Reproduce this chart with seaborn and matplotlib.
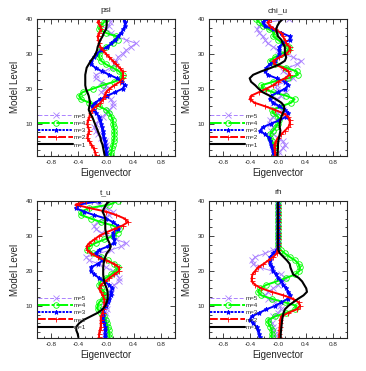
import numpy as np
import seaborn as sns
import matplotlib
matplotlib.use("Agg")
import matplotlib.pyplot as plt
from matplotlib.ticker import MultipleLocator, FixedLocator, FixedFormatter

levels = np.arange(1, 41)

# eigenvector values, level 1 -> 40
psi_m1 = [-0.02, -0.03, -0.04, -0.05, -0.07, -0.08, -0.1, -0.12, -0.14, -0.16, -0.18, -0.2, -0.23, -0.25, -0.24, -0.23, -0.24, -0.25, -0.27, -0.29,
          -0.3, -0.3, -0.3, -0.3, -0.29, -0.28, -0.25, -0.22, -0.18, -0.15, -0.13, -0.12, -0.1, -0.08, -0.05, -0.03, 0.0, 0.01, 0.01, 0.01]
psi_m2 = [-0.15, -0.16, -0.18, -0.21, -0.24, -0.27, -0.26, -0.24, -0.26, -0.27, -0.26, -0.24, -0.23, -0.2, -0.14, -0.08, -0.04, -0.02, 0.0, 0.05,
          0.12, 0.2, 0.24, 0.25, 0.24, 0.2, 0.15, 0.1, 0.05, 0.0, -0.04, -0.08, -0.1, -0.11, -0.12, -0.1, -0.07, -0.08, -0.12, -0.1]
psi_m3 = [0.0, 0.0, 0.0, -0.01, -0.02, -0.03, -0.04, -0.05, -0.06, -0.07, -0.08, -0.1, -0.14, -0.18, -0.2, -0.16, -0.08, 0.02, 0.13, 0.24,
          0.27, 0.23, 0.16, 0.05, -0.06, -0.15, -0.22, -0.21, -0.18, -0.14, -0.07, 0.02, 0.08, 0.13, 0.18, 0.22, 0.25, 0.28, 0.27, 0.26]
psi_m4 = [0.07, 0.08, 0.09, 0.1, 0.11, 0.12, 0.12, 0.12, 0.11, 0.1, 0.1, 0.08, 0.05, 0.0, -0.1, -0.24, -0.36, -0.39, -0.34, -0.19,
          -0.05, 0.12, 0.22, 0.24, 0.19, 0.1, 0.0, -0.07, -0.1, -0.1, -0.07, 0.0, 0.1, 0.17, 0.15, 0.0, -0.1, -0.08, -0.03, 0.0]
psi_m5 = [0.01, 0.01, 0.0, 0.0, -0.02, -0.07, -0.12, -0.15, -0.17, -0.15, -0.1, -0.05, 0.0, 0.05, 0.1, 0.1, 0.07, 0.0, -0.07, -0.02,
          0.0, -0.07, -0.15, -0.15, -0.02, 0.07, 0.12, 0.15, 0.17, 0.24, 0.29, 0.36, 0.44, 0.29, 0.15, 0.07, 0.0, 0.05, 0.06, 0.05]

chi_m1 = [-0.01, -0.005, 0.0, 0.0, 0.005, 0.015, 0.025, 0.035, 0.025, 0.025, 0.035, 0.05, 0.07, 0.09, 0.09, 0.05, -0.03, -0.12, -0.22, -0.28,
          -0.33, -0.39, -0.41, -0.36, -0.24, -0.1, 0.02, 0.1, 0.12, 0.1, 0.1, 0.1, 0.07, 0.05, 0.0, -0.015, -0.025, -0.01, 0.02, 0.07]
chi_m2 = [-0.04, -0.045, -0.05, -0.05, -0.03, 0.0, 0.05, 0.1, 0.15, 0.17, 0.17, 0.15, 0.07, -0.05, -0.19, -0.34, -0.41, -0.39, -0.28, -0.17,
          -0.07, 0.0, 0.1, 0.17, 0.15, 0.07, -0.05, -0.07, 0.02, 0.12, 0.17, 0.17, 0.12, 0.1, 0.07, 0.05, -0.05, -0.12, -0.15, -0.1]
chi_m3 = [-0.06, -0.07, -0.08, -0.1, -0.11, -0.13, -0.19, -0.26, -0.22, -0.1, 0.02, 0.12, 0.15, 0.1, 0.02, -0.07, -0.12, -0.1, 0.0, 0.1,
          0.15, 0.1, -0.02, -0.15, -0.19, -0.17, -0.12, -0.05, 0.0, 0.02, 0.02, 0.02, 0.07, 0.17, 0.17, 0.05, -0.07, -0.19, -0.22, -0.17]
chi_m4 = [-0.05, -0.05, -0.06, -0.07, -0.08, -0.11, -0.11, -0.07, -0.03, 0.0, 0.02, 0.0, -0.07, -0.08, 0.05, 0.19, 0.24, 0.12, -0.07, -0.22,
          -0.24, -0.07, 0.15, 0.29, 0.27, 0.12, -0.05, -0.12, -0.05, 0.05, 0.15, 0.16, 0.07, 0.0, -0.07, -0.05, -0.13, -0.22, -0.27, -0.32]
chi_m5 = [0.0, 0.02, 0.07, 0.1, 0.07, 0.0, -0.07, -0.1, -0.07, -0.12, -0.12, -0.07, 0.0, 0.07, 0.02, -0.07, -0.02, 0.05, 0.12, -0.02,
          -0.02, 0.12, 0.22, 0.15, 0.07, 0.15, 0.27, 0.34, 0.22, 0.07, 0.0, -0.07, -0.15, -0.19, -0.22, -0.27, -0.3, -0.28, -0.15, 0.16]

tu_m1 = [-0.4, -0.41, -0.43, -0.43, -0.39, -0.32, -0.22, -0.12, -0.05, -0.01, 0.01, 0.025, 0.025, 0.025, 0.01, -0.01, -0.025, -0.035, -0.04, -0.04,
         -0.04, -0.035, -0.025, -0.01, 0.01, 0.05, 0.07, 0.05, 0.025, 0.01, 0.0, -0.01, -0.01, -0.01, -0.01, -0.025, -0.05, -0.025, 0.0, 0.05]
tu_m2 = [-0.1, -0.1, -0.09, -0.075, -0.075, -0.075, -0.075, -0.05, -0.04, -0.025, -0.025, -0.025, -0.05, -0.075, -0.1, -0.075, -0.01, 0.05, 0.12, 0.19,
         0.19, 0.12, 0.0, -0.12, -0.22, -0.27, -0.28, -0.24, -0.17, -0.1, 0.0, 0.12, 0.24, 0.32, 0.27, 0.15, 0.0, -0.24, -0.44, -0.29]
tu_m3 = [-0.01, -0.01, -0.01, -0.01, -0.025, -0.04, -0.05, -0.05, -0.04, 0.0, 0.025, 0.05, 0.07, 0.07, 0.09, 0.05, -0.025, -0.1, -0.17, -0.22,
         -0.22, -0.12, -0.05, -0.1, -0.15, -0.1, 0.025, 0.12, 0.12, 0.1, 0.1, 0.17, 0.17, 0.1, 0.0, -0.17, -0.32, -0.44, -0.39, -0.1]
tu_m4 = [0.05, 0.05, 0.04, 0.025, 0.01, 0.0, -0.025, -0.075, -0.12, -0.12, -0.1, -0.05, -0.01, -0.025, -0.075, -0.1, -0.075, 0.0, 0.075, 0.15,
         0.17, 0.12, 0.025, -0.075, -0.19, -0.27, -0.24, -0.15, -0.025, 0.1, 0.17, 0.19, 0.1, -0.075, -0.22, -0.36, -0.36, -0.24, 0.05, 0.17]
tu_m5 = [-0.01, -0.01, 0.0, 0.0, 0.0, -0.01, -0.01, 0.0, 0.01, 0.0, -0.025, 0.0, 0.025, 0.07, 0.07, 0.12, 0.19, 0.19, 0.15, 0.1,
         0.0, -0.1, -0.24, -0.29, -0.1, 0.07, 0.22, 0.29, 0.15, 0.05, -0.07, -0.15, -0.17, -0.12, -0.05, 0.05, 0.1, 0.0, -0.1, -0.17]

rh_m1 = [0.04, 0.04, 0.045, 0.05, 0.055, 0.06, 0.07, 0.08, 0.1, 0.15, 0.22, 0.29, 0.37, 0.42, 0.41, 0.38, 0.35, 0.3, 0.22, 0.2,
         0.18, 0.17, 0.13, 0.08, 0.03, 0.005, 0.0, 0.0, 0.0, 0.0, 0.0, 0.0, 0.0, 0.0, 0.0, 0.0, 0.0, 0.0, 0.0, 0.0]
rh_m2 = [0.02, 0.02, 0.02, 0.025, 0.03, 0.03, 0.05, 0.15, 0.27, 0.32, 0.3, 0.22, 0.08, -0.09, -0.24, -0.33, -0.38, -0.38, -0.37, -0.33,
         -0.29, -0.21, -0.14, -0.07, -0.02, -0.005, 0.0, 0.0, 0.0, 0.0, 0.0, 0.0, 0.0, 0.0, 0.0, 0.0, 0.0, 0.0, 0.0, 0.0]
rh_m3 = [-0.26, -0.27, -0.29, -0.31, -0.36, -0.41, -0.38, -0.27, -0.17, -0.04, 0.05, 0.14, 0.17, 0.15, 0.12, 0.08, 0.05, 0.005, -0.03, -0.07,
         -0.09, -0.11, -0.12, -0.11, -0.07, -0.02, 0.0, -0.005, -0.005, -0.005, -0.005, -0.005, -0.005, -0.005, -0.005, -0.005, -0.005, -0.005, -0.005, -0.005]
rh_m4 = [-0.09, -0.09, -0.09, -0.11, -0.14, -0.14, -0.04, 0.12, 0.25, 0.27, 0.1, -0.09, -0.24, -0.29, -0.26, -0.17, -0.02, 0.12, 0.25, 0.31,
         0.32, 0.3, 0.25, 0.17, 0.1, 0.04, 0.0, 0.0, 0.0, 0.0, 0.0, 0.0, 0.0, 0.0, 0.0, 0.0, 0.0, 0.0, 0.0, 0.0]
rh_m5 = [-0.04, -0.045, -0.06, -0.07, -0.09, -0.11, -0.07, 0.0, 0.04, 0.03, -0.04, -0.14, -0.19, -0.14, -0.07, 0.0, 0.08, 0.1, 0.05, -0.09,
         -0.26, -0.36, -0.38, -0.33, -0.19, -0.07, 0.0, 0.0, 0.0, 0.0, 0.0, 0.0, 0.0, 0.0, 0.0, 0.0, 0.0, 0.0, 0.0, 0.0]

titles = ["psi", "chi_u", "t_u", "rh"]
panel_data = [
    [psi_m1, psi_m2, psi_m3, psi_m4, psi_m5],
    [chi_m1, chi_m2, chi_m3, chi_m4, chi_m5],
    [tu_m1, tu_m2, tu_m3, tu_m4, tu_m5],
    [rh_m1, rh_m2, rh_m3, rh_m4, rh_m5],
]
mode_labels = ["m=1", "m=2", "m=3", "m=4", "m=5"]
xtick_vals = [-0.8, -0.4, 0.0, 0.4, 0.8]
xtick_text = ["-0.8", "-0.4", "-0.0", "0.4", "0.8"]

# line styling per mode
colors = ["black", "#FF0000", "#0000FF", "#00FF00", "#AB82FF"]
markers = ["", "+", "*", "o", "x"]
msizes = [3.4, 3.6, 3.4, 4.0, 3.8]
widths = [1.5, 1.4, 1.4, 1.4, 0.7]
# dash patterns only show up in the legend keys
legend_styles = ["-", (0, (4, 1.2)), (0, (1.2, 0.6)), (0, (6, 1, 1.5, 1)), (0, (4, 2))]

sns.set_style("ticks")
plt.rcParams["font.family"] = ["Liberation Sans", "DejaVu Sans"]

fig = plt.figure(figsize=(3.66, 3.71), dpi=100)
boxes = [
    [0.101, 0.580, 0.377, 0.369],
    [0.571, 0.580, 0.377, 0.369],
    [0.101, 0.089, 0.377, 0.369],
    [0.571, 0.089, 0.377, 0.369],
]

for box, title, series in zip(boxes, titles, panel_data):
    ax = fig.add_axes(box)
    # draw m=5 first so m=1 ends up on top
    for i in range(4, -1, -1):
        sns.lineplot(x=series[i], y=levels, orient="y", sort=True, ax=ax,
                     color=colors[i], lw=widths[i], linestyle="-",
                     marker=markers[i], markersize=msizes[i], mew=0.6, mec=colors[i],
                     mfc="none" if markers[i] == "o" else colors[i],
                     label=mode_labels[i])
    ax.set_xlim(-1.0, 1.0)
    ax.set_ylim(0.8, 40)
    ax.xaxis.set_major_locator(FixedLocator(xtick_vals))
    ax.xaxis.set_major_formatter(FixedFormatter(xtick_text))
    ax.xaxis.set_minor_locator(MultipleLocator(0.1))
    ax.yaxis.set_major_locator(FixedLocator([10, 20, 30, 40]))
    ax.yaxis.set_minor_locator(MultipleLocator(2.5))
    ax.tick_params(which="both", direction="in", top=True, right=True, width=0.6, labelsize=4.6, pad=3)
    ax.tick_params(which="major", length=3.5)
    ax.tick_params(which="minor", length=1.8)
    for sp in ax.spines.values():
        sp.set_linewidth(0.8)
    ax.set_title(title, fontsize=6, pad=5)
    ax.set_xlabel("Eigenvector", fontsize=7, labelpad=2)
    ax.set_ylabel("Model Level", fontsize=7, labelpad=4)
    leg = ax.legend(loc="lower left", bbox_to_anchor=(0.01, 0.06), frameon=False, fontsize=4.5,
                    handlelength=5.5, labelspacing=0.3, handletextpad=0.2, borderaxespad=0, borderpad=0)
    for j, line in enumerate(leg.get_lines()):
        line.set_linestyle(legend_styles[4 - j])

plt.savefig("out.png", dpi=100)
plt.close()
